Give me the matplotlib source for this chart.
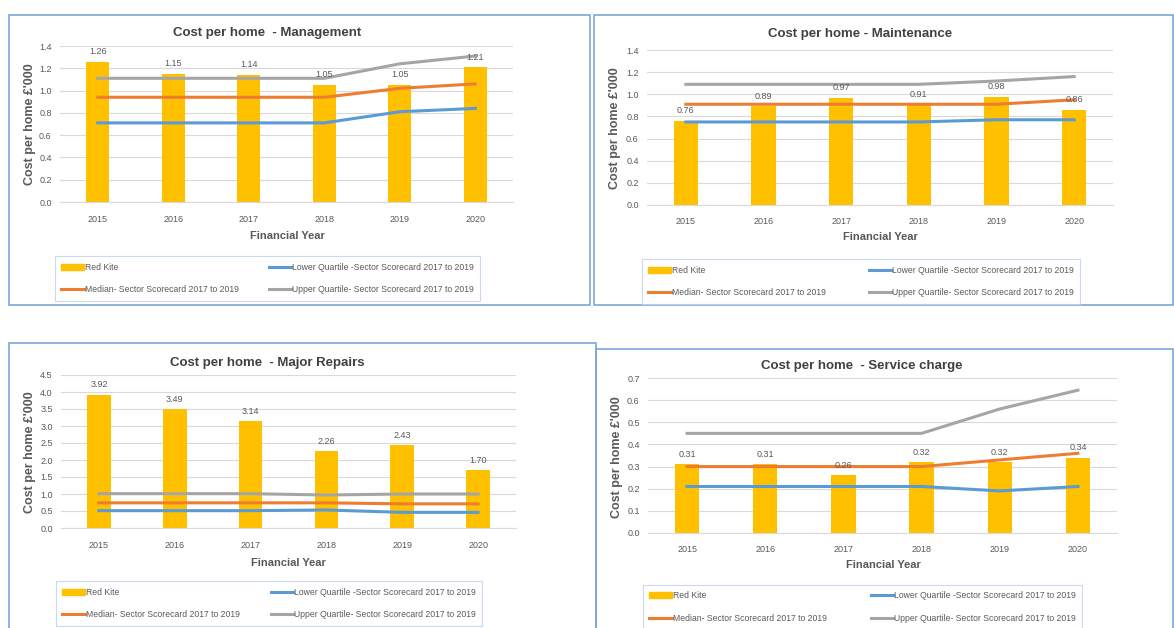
import matplotlib.pyplot as plt
from matplotlib.patches import Rectangle, Patch
from matplotlib.lines import Line2D
import numpy as np

plt.rcParams['font.family'] = ['Liberation Sans', 'DejaVu Sans']

# Data
years = ['2015', '2016', '2017', '2018', '2019', '2020']

mgmt_red_kite = [1.26, 1.15, 1.14, 1.05, 1.05, 1.21]
mgmt_lower = [0.71, 0.71, 0.71, 0.71, 0.81, 0.84]
mgmt_median = [0.94, 0.94, 0.94, 0.94, 1.02, 1.06]
mgmt_upper = [1.11, 1.11, 1.11, 1.11, 1.24, 1.31]

maint_red_kite = [0.76, 0.89, 0.97, 0.91, 0.98, 0.86]
maint_lower = [0.75, 0.75, 0.75, 0.75, 0.77, 0.77]
maint_median = [0.91, 0.91, 0.91, 0.91, 0.91, 0.95]
maint_upper = [1.09, 1.09, 1.09, 1.09, 1.12, 1.16]

major_red_kite = [3.92, 3.49, 3.14, 2.26, 2.43, 1.70]
major_lower = [0.51, 0.51, 0.51, 0.53, 0.46, 0.46]
major_median = [0.74, 0.74, 0.74, 0.74, 0.71, 0.71]
major_upper = [1.01, 1.01, 1.01, 0.97, 1.00, 1.00]

service_red_kite = [0.31, 0.31, 0.26, 0.32, 0.32, 0.34]
service_lower = [0.21, 0.21, 0.21, 0.21, 0.19, 0.21]
service_median = [0.30, 0.30, 0.30, 0.30, 0.33, 0.36]
service_upper = [0.45, 0.45, 0.45, 0.45, 0.56, 0.645]

legend_labels = ['Red Kite',
                 'Lower Quartile -Sector Scorecard 2017 to 2019',
                 'Median- Sector Scorecard 2017 to 2019',
                 'Upper Quartile- Sector Scorecard 2017 to 2019']

# Styling
W, H = 1174, 628
C_BAR = '#FFC000'
C_LOW = '#5B9BD5'
C_MED = '#ED7D31'
C_UPP = '#A5A5A5'
C_TXT = '#595959'
C_BORDER = '#7EA6DC'


def fx(x):
    return x / W


def fy(y):
    return 1 - y / H


fig = plt.figure(figsize=(W / 100, H / 100), dpi=100)

panels = [
    dict(title='Cost per home  - Management', bars=mgmt_red_kite, lo=mgmt_lower,
         med=mgmt_median, up=mgmt_upper, ymax=1.4, step=0.2, fmt='{:.1f}',
         frame=(9, 15, 590, 305), ax=(60, 46, 513, 202), title_xy=(267, 33),
         xl_xy=(287, 236), yl_xy=(30, 124), leg=(55, 257, 480, 300)),
    dict(title='Cost per home - Maintenance', bars=maint_red_kite, lo=maint_lower,
         med=maint_median, up=maint_upper, ymax=1.4, step=0.2, fmt='{:.1f}',
         frame=(594, 15, 1173, 305), ax=(647, 50, 1113, 205), title_xy=(860, 34),
         xl_xy=(880, 237), yl_xy=(615, 128), leg=(642, 258, 1080, 305)),
    dict(title='Cost per home  - Major Repairs', bars=major_red_kite, lo=major_lower,
         med=major_median, up=major_upper, ymax=4.5, step=0.5, fmt='{:.1f}',
         frame=(9, 343, 596, 640), ax=(61, 375, 516, 528), title_xy=(267, 363),
         xl_xy=(288, 563), yl_xy=(30, 452), leg=(56, 582, 482, 625)),
    dict(title='Cost per home  - Service charge', bars=service_red_kite, lo=service_lower,
         med=service_median, up=service_upper, ymax=0.7, step=0.1, fmt='{:.1f}',
         frame=(596, 349, 1173, 640), ax=(648, 378, 1117, 533), title_xy=(862, 366),
         xl_xy=(883, 565), yl_xy=(617, 457), leg=(643, 587, 1082, 627)),
]

for p in panels:
    l, t, r, b = p['frame']
    fig.patches.append(Rectangle((fx(l), fy(b)), fx(r - l), (b - t) / H,
                                 transform=fig.transFigure, fill=False,
                                 edgecolor=C_BORDER, linewidth=1.2))

    l, t, r, b = p['ax']
    ax = fig.add_axes([fx(l), fy(b), fx(r - l), (b - t) / H])
    x = np.arange(len(years))
    ax.bar(x, p['bars'], width=0.31, color=C_BAR, zorder=2)
    ax.plot(x, p['lo'], color=C_LOW, linewidth=2.2, zorder=3)
    ax.plot(x, p['med'], color=C_MED, linewidth=2.2, zorder=3)
    ax.plot(x, p['up'], color=C_UPP, linewidth=2.2, zorder=3)
    for xi, v in zip(x, p['bars']):
        ax.annotate(f'{v:.2f}', (xi, v), xytext=(0, 4), textcoords='offset points',
                    ha='center', va='bottom', fontsize=6.5, color=C_TXT, zorder=4)

    ax.set_xlim(-0.5, len(years) - 0.5)
    ax.set_ylim(0, p['ymax'])
    ticks = np.arange(0, p['ymax'] + p['step'] / 2, p['step'])
    ax.set_yticks(ticks)
    ax.set_yticklabels([p['fmt'].format(v) for v in ticks])
    ax.set_xticks(x)
    ax.set_xticklabels(years)
    ax.tick_params(length=0, labelsize=6.5, labelcolor=C_TXT, pad=6)
    ax.tick_params(axis='x', pad=9)
    ax.grid(axis='y', color='#D9D9D9', linewidth=0.8, zorder=0)
    for s in ['top', 'right', 'left']:
        ax.spines[s].set_visible(False)
    ax.spines['bottom'].set_color('#D9D9D9')
    ax.set_facecolor('none')

    fig.text(fx(p['title_xy'][0]), fy(p['title_xy'][1]), p['title'], ha='center',
             va='center', fontsize=9.5, fontweight='bold', color='#404040')
    fig.text(fx(p['xl_xy'][0]), fy(p['xl_xy'][1]), 'Financial Year', ha='center',
             va='center', fontsize=8, fontweight='bold', color=C_TXT)
    fig.text(fx(p['yl_xy'][0]), fy(p['yl_xy'][1]), "Cost per home £'000", ha='center',
             va='center', fontsize=9, fontweight='bold', color=C_TXT, rotation=90)

    handles = [Patch(color=C_BAR),
               Line2D([], [], color=C_MED, linewidth=2.2),
               Line2D([], [], color=C_LOW, linewidth=2.2),
               Line2D([], [], color=C_UPP, linewidth=2.2)]
    labels = [legend_labels[0], legend_labels[2], legend_labels[1], legend_labels[3]]
    l, t, r, b = p['leg']
    leg = fig.legend(handles, labels, ncol=2, mode='expand', loc='center',
                     bbox_to_anchor=(fx(l), fy(b), fx(r - l), (b - t) / H),
                     bbox_transform=fig.transFigure, fontsize=6.2, frameon=True,
                     fancybox=False, borderaxespad=0, handlelength=2.6,
                     handletextpad=0.1, labelspacing=1.6, borderpad=0.75)
    leg.get_frame().set_edgecolor('#BDD0EA')
    leg.get_frame().set_linewidth(0.8)
    for tx in leg.get_texts():
        tx.set_color(C_TXT)

fig.savefig('out.png', dpi=100)
